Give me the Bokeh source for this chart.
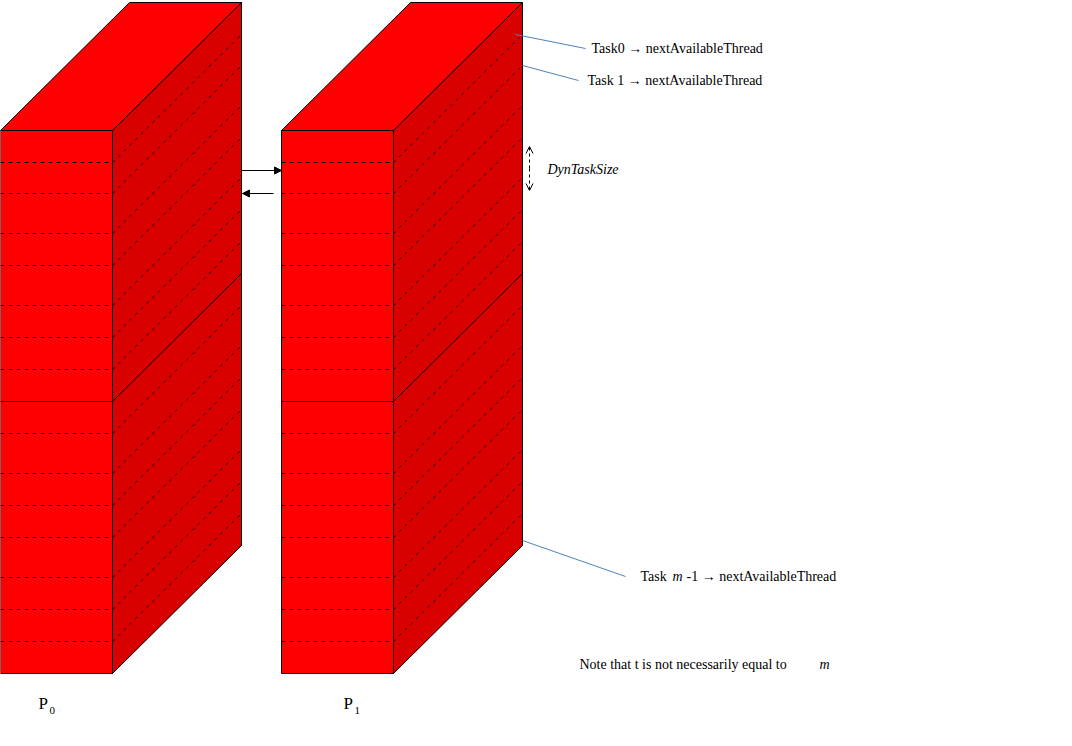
from bokeh.plotting import figure
from bokeh.models import Range1d, Arrow, NormalHead, OpenHead
from bokeh.core.properties import value
from bokeh.embed import file_html
from bokeh.resources import INLINE

# block geometry (pixel units, y grows downward)
block_x = [0, 281]
block_names = ["P", "P"]
block_subs = ["0", "1"]
front_w = 112
depth_x, depth_y = 129, 128
top_y, bottom_y = 130, 673
row_lines = [162, 193, 233, 265, 305, 337, 369, 433, 473, 505, 537, 577, 609, 641]
mid_line = 401

W, H = 1056, 730
p = figure(width=W, height=H, x_range=Range1d(0, W), y_range=Range1d(H, 0),
           output_backend="svg", toolbar_location=None, min_border=0)
p.axis.visible = False
p.grid.visible = False
p.outline_line_color = None

font = value("Liberation Serif")

for bx in block_x:
    fx1 = bx + front_w
    # side face
    p.patch([fx1, fx1 + depth_x, fx1 + depth_x, fx1],
            [top_y, top_y - depth_y, bottom_y - depth_y, bottom_y],
            fill_color="#D90000", line_color="black", line_width=1)
    # top face
    p.patch([bx, bx + depth_x, fx1 + depth_x, fx1],
            [top_y, top_y - depth_y, top_y - depth_y, top_y],
            fill_color="#FF0000", line_color="black", line_width=1)
    # front face
    p.quad(left=bx, right=fx1, top=top_y, bottom=bottom_y,
           fill_color="#FF0000", line_color="black", line_width=1)
    # dashed rows
    p.segment(x0=[bx] * len(row_lines), y0=row_lines, x1=[fx1] * len(row_lines), y1=row_lines,
              line_color="black", line_dash="4 4", line_width=1)
    p.segment(x0=[fx1] * len(row_lines), y0=row_lines,
              x1=[fx1 + depth_x] * len(row_lines), y1=[y - depth_y for y in row_lines],
              line_color="black", line_dash="3 5", line_width=1)
    # middle solid line
    p.line([bx, fx1, fx1 + depth_x], [mid_line, mid_line, mid_line - depth_y],
           line_color="black", line_width=1)

# arrows between blocks
p.add_layout(Arrow(x_start=241, y_start=170, x_end=281, y_end=170, line_width=1,
                   end=NormalHead(size=7, fill_color="black", line_color="black")))
p.add_layout(Arrow(x_start=273, y_start=193, x_end=242, y_end=193, line_width=1,
                   end=NormalHead(size=7, fill_color="black", line_color="black")))

# DynTaskSize double arrow
p.add_layout(Arrow(x_start=529, y_start=168, x_end=529, y_end=146, line_width=1, line_dash="3 3",
                   end=OpenHead(size=7, line_width=1)))
p.add_layout(Arrow(x_start=529, y_start=168, x_end=529, y_end=190, line_width=1, line_dash="3 3",
                   end=OpenHead(size=7, line_width=1)))

# callout lines
p.segment(x0=[515, 522, 522], y0=[34, 65, 540], x1=[585, 578, 625], y1=[48, 80, 576],
          line_color="#4F81BD", line_width=1)

fs = "14px"
labels_x = [591, 587, 640, 686]
labels_y = [48, 80, 576, 576]
labels = ["Task0 \u2192 nextAvailableThread", "Task 1 \u2192 nextAvailableThread",
          "Task ", "-1 \u2192 nextAvailableThread"]
p.text(x=labels_x, y=labels_y, text=labels, text_font=font, text_font_size=fs,
       text_baseline="middle", text_align="left", text_color="black")
p.text(x=[672], y=[576], text=["m"], text_font=font, text_font_size=fs, text_font_style="italic",
       text_baseline="middle", text_align="left")
p.text(x=[547], y=[169], text=["DynTaskSize"], text_font=font, text_font_size=fs,
       text_font_style="italic", text_baseline="middle", text_align="left")
p.text(x=[579], y=[664], text=["Note that t is not necessarily equal to"], text_font=font,
       text_font_size=fs, text_baseline="middle", text_align="left")
p.text(x=[819], y=[664], text=["m"], text_font=font, text_font_size=fs, text_font_style="italic",
       text_baseline="middle", text_align="left")

# block labels with subscripts
p.text(x=[bx + 38 + (24 if i else 0) for i, bx in enumerate(block_x)], y=[703, 703], text=block_names,
       text_font=font, text_font_size="17px", text_baseline="middle", text_align="left")
p.text(x=[bx + 49 + (24 if i else 0) for i, bx in enumerate(block_x)], y=[710, 710], text=block_subs,
       text_font=font, text_font_size="11px", text_baseline="middle", text_align="left")

open("out.html", "w").write(file_html(p, INLINE))
